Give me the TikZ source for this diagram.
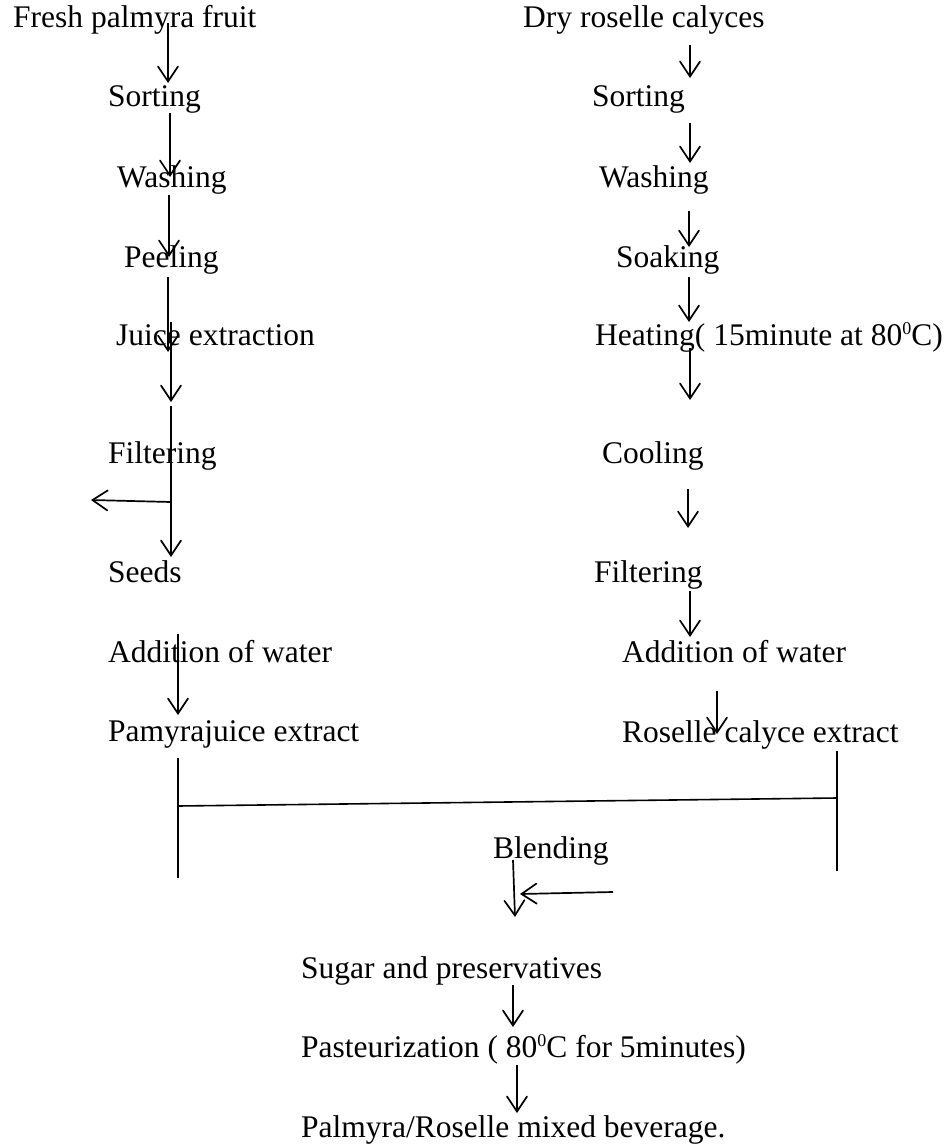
\documentclass[tikz,border=0pt]{standalone}
\usepackage{fontspec}
\setmainfont{Liberation Serif}
\usetikzlibrary{arrows.meta}
\newcommand{\degsup}{\raisebox{0.75ex}{\fontsize{18}{18}\selectfont 0}}
\begin{document}
\begin{tikzpicture}[x=1pt,y=-1pt,
  lbl/.style={anchor=base west,inner sep=0pt,font=\fontsize{31.5}{35}\selectfont},
  arr/.style={-{Straight Barb[length=15pt,width=20pt,line cap=round]},line width=1.7pt},
  ln/.style={line width=1.6pt}]
\useasboundingbox (0,0) rectangle (948,1145);
% left column
\node[lbl] (fresh) at (13,28) {Fresh palmyra fruit};
\node[lbl] (lsort) at (108,107) {Sorting};
\node[lbl] (lwash) at (117,187) {Washing};
\node[lbl] (lpeel) at (124,267) {Peeling};
\node[lbl] (juice) at (116,345) {Juice extraction};
\node[lbl] (lfilt) at (108,463) {Filtering};
\node[lbl] (seeds) at (108,582) {Seeds};
\node[lbl] (ladd) at (108,662) {Addition of water};
\node[lbl] (pjuice) at (108,741) {Pamyrajuice extract};
% right column
\node[lbl] (dry) at (523,28) {Dry roselle calyces};
\node[lbl] (rsort) at (592,107) {Sorting};
\node[lbl] (rwash) at (599,187) {Washing};
\node[lbl] (soak) at (616,267) {Soaking};
\node[lbl] (heat) at (595,345) {Heating( 15minute at 80\degsup C)};
\node[lbl] (cool) at (602,463) {Cooling};
\node[lbl] (rfilt) at (594,582) {Filtering};
\node[lbl] (radd) at (622,662) {Addition of water};
\node[lbl] (rext) at (622,742) {Roselle calyce extract};
% bottom
\node[lbl] (blend) at (493,858) {Blending};
\node[lbl] (sugar) at (301,978) {Sugar and preservatives};
\node[lbl] (past) at (301,1057) {Pasteurization ( 80\degsup C for 5minutes)};
\node[lbl] (final) at (301,1137) {Palmyra/Roselle mixed beverage.};
% coordinates, left
\coordinate (l1a) at (168,23);  \coordinate (l1b) at (168,83);
\coordinate (l2a) at (170,113); \coordinate (l2b) at (170,177);
\coordinate (l3a) at (169,195); \coordinate (l3b) at (169,257);
\coordinate (l4a) at (168,277); \coordinate (l4b) at (168,352);
\coordinate (l5a) at (171,322); \coordinate (l5b) at (171,402);
\coordinate (l6a) at (171,406); \coordinate (l6b) at (171,557);
\coordinate (lbr) at (171,502); \coordinate (lbe) at (91,500);
\coordinate (l7a) at (178,634); \coordinate (l7b) at (178,715);
% coordinates, right
\coordinate (r1a) at (690,45);  \coordinate (r1b) at (690,78);
\coordinate (r2a) at (690,123); \coordinate (r2b) at (690,163);
\coordinate (r3a) at (689,211); \coordinate (r3b) at (689,247);
\coordinate (r4a) at (689,277); \coordinate (r4b) at (689,322);
\coordinate (r5a) at (690,348); \coordinate (r5b) at (690,400);
\coordinate (r6a) at (688,489); \coordinate (r6b) at (688,528);
\coordinate (r7a) at (690,591); \coordinate (r7b) at (690,637);
\coordinate (r8a) at (717,691); \coordinate (r8b) at (717,734);
% join
\coordinate (jl1) at (178,758); \coordinate (jl2) at (178,878);
\coordinate (jlm) at (178,806);
\coordinate (jr1) at (837,751); \coordinate (jr2) at (837,871);
\coordinate (jrm) at (837,798);
% bottom
\coordinate (b1a) at (513,860); \coordinate (b1b) at (515,917);
\coordinate (s1a) at (613,892); \coordinate (s1b) at (520,894);
\coordinate (b2a) at (513,985); \coordinate (b2b) at (513,1027);
\coordinate (b3a) at (517,1065); \coordinate (b3b) at (517,1113);
% left arrows
\draw[arr] (l1a) -- (l1b);
\draw[arr] (l2a) -- (l2b);
\draw[arr] (l3a) -- (l3b);
\draw[arr] (l4a) -- (l4b);
\draw[arr] (l5a) -- (l5b);
\draw[arr] (l6a) -- (l6b);
\draw[arr] (lbr) -- (lbe);
\draw[arr] (l7a) -- (l7b);
% right arrows
\draw[arr] (r1a) -- (r1b);
\draw[arr] (r2a) -- (r2b);
\draw[arr] (r3a) -- (r3b);
\draw[arr] (r4a) -- (r4b);
\draw[arr] (r5a) -- (r5b);
\draw[arr] (r6a) -- (r6b);
\draw[arr] (r7a) -- (r7b);
\draw[arr] (r8a) -- (r8b);
% join lines
\draw[ln] (jl1) -- (jl2);
\draw[ln] (jr1) -- (jr2);
\draw[ln] (jlm) -- (jrm);
% bottom arrows
\draw[arr] (b1a) -- (b1b);
\draw[arr] (s1a) -- (s1b);
\draw[arr] (b2a) -- (b2b);
\draw[arr] (b3a) -- (b3b);
\end{tikzpicture}
\end{document}
